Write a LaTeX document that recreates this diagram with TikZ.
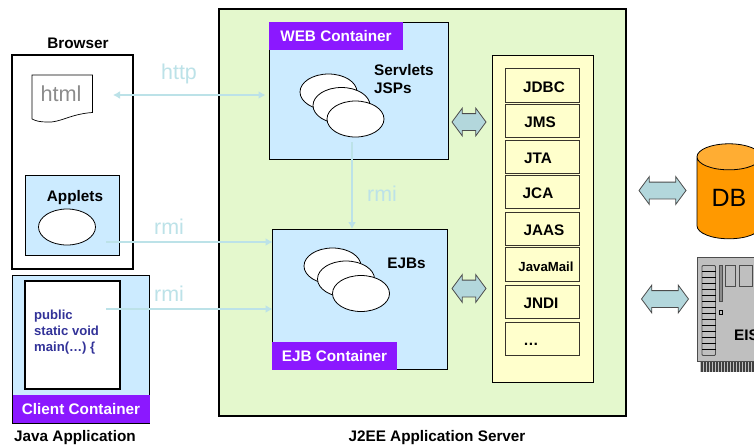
\documentclass[tikz,border=0pt]{standalone}
\usepackage{fontspec}
\setmainfont{Liberation Sans}
\usetikzlibrary{matrix,positioning,calc,arrows.meta,shapes.geometric,shapes.arrows}
\definecolor{serverfill}{RGB}{228,248,205}
\definecolor{boxfill}{RGB}{204,235,255}
\definecolor{panelfill}{RGB}{255,255,204}
\definecolor{tagfill}{RGB}{139,24,255}
\definecolor{linkcolor}{RGB}{188,226,232}
\definecolor{codecolor}{RGB}{51,51,153}
\tikzset{
  label15/.style={font=\fontsize{15.3}{18.7}\selectfont\bfseries, inner sep=0, align=left},
  linktext/.style={font=\fontsize{21.4}{24}\selectfont, text=linkcolor, inner sep=0},
  container/.style={draw, fill=boxfill, line width=0.8pt, inner sep=0, outer sep=0, anchor=north west},
  tag/.style={fill=tagfill, text=white, font=\fontsize{15.3}{18}\selectfont\bfseries, inner sep=0, outer sep=0,
    minimum height=28pt, text height=11pt, text depth=0pt, anchor=north west},
  bean/.style={ellipse, draw, fill=white, line width=0.8pt, minimum width=57pt, minimum height=36pt, inner sep=0},
  link/.style={draw=linkcolor, line width=2.3pt},
  blockarrow/.style={double arrow, draw=black!70, fill=linkcolor!95!black, line width=0.8pt, inner sep=0,
    text height=16pt, text depth=0pt, text width=0pt,
    minimum width=27pt, double arrow head extend=5.5pt, double arrow tip angle=107},
}
\begin{document}
\begin{tikzpicture}[x=1pt, y=-1pt, >={Latex[length=7pt,width=8pt]}]
  \clip (0,0) rectangle (754,445);
  \fill[white] (0,0) rectangle (754,445);

  % application server
  \node[container, fill=serverfill, line width=2.5pt, minimum width=407pt, minimum height=407pt] (server) at (219,9) {};
  \node[label15] (serverName) at (437,437.5) {J2EE Application Server};

  % browser
  \node[container, fill=white, line width=2pt, minimum width=121pt, minimum height=214pt] (browser) at (12,55) {};
  \node[label15] (browserName) at (78,43.5) {Browser};
  \draw[fill=white, line width=0.7pt] (32,119) -- (32,75) -- (92.5,75) -- (92.5,112.5)
    .. controls (70,114) and (60,123) .. (47,122) .. controls (40,122) and (36,121) .. (32,119);
  \node[inner sep=0, text=black!45, font=\fontsize{21.7}{24}\selectfont] (html) at (61,94) {html};
  \node[container, minimum width=94pt, minimum height=80pt] (applets) at (25.5,175) {};
  \node[label15] (appletsName) at (75,197.5) {Applets};
  \node[bean] (applet) at (67,227) {};

  % client container
  \node[container, minimum width=137pt, minimum height=148pt] (client) at (12.5,275) {};
  \node[container, fill=white, line width=2pt, minimum width=95pt, minimum height=108pt] (main) at (25,281) {};
  \node[inner sep=0, anchor=west, align=left, text=codecolor, font=\fontsize{13.1}{16}\selectfont\bfseries] (code) at (34,332) {public\\static void\\main(\dots) \{};
  \node[tag, minimum width=137pt] (clientTag) at (12.5,395) {Client Container};
  \node[label15] (clientName) at (75,437.5) {Java Application};

  % web container
  \node[container, minimum width=179pt, minimum height=137pt] (web) at (269,22) {};
  \node[tag, minimum width=134pt] (webTag) at (web.north west) {WEB Container};
  \node[bean] (servlet1) at (328.5,92) {};
  \node[bean] (servlet2) at (341.5,105.5) {};
  \node[bean] (servlet3) at (355.5,119) {};
  \node[label15, anchor=north west] (webName) at (374,64) {Servlets\\JSPs};

  % ejb container
  \node[container, minimum width=174.5pt, minimum height=140pt] (ejb) at (272.5,229) {};
  \node[tag, minimum width=125pt] (ejbTag) at (272,342) {EJB Container};
  \node[bean] (bean1) at (332.5,266) {};
  \node[bean] (bean2) at (346,279) {};
  \node[bean] (bean3) at (361,293.5) {};
  \node[label15] (ejbName) at (406.5,263) {EJBs};

  % services
  \node[container, fill=panelfill, line width=0.8pt, minimum width=101pt, minimum height=327pt] (panel) at (492,55) {};
  \matrix(services)[matrix of nodes, anchor=north west, row sep=0pt, inner sep=0pt, outer sep=0pt,
    nodes={draw=black!80!olive, fill=panelfill, line width=0.8pt, minimum width=74pt, minimum height=33.5pt,
      inner sep=0, outer sep=0, anchor=center, text height=14pt, text depth=0pt,
      font=\fontsize{15.3}{18}\selectfont\bfseries}] at (505.1,68.1) {
    \hspace*{3pt}JDBC \\[1.2pt]
    \hspace*{-5pt}JMS \\[1.7pt]
    \hspace*{-9pt}JTA \\[0.7pt]
    \hspace*{-9pt}JCA \\[2.7pt]
    \hspace*{3pt}JAAS \\[1.2pt]
    |[font=\fontsize{13.2}{16}\selectfont\bfseries]| \hspace*{7pt}JavaMail \\[3.2pt]
    \hspace*{-3pt}JNDI \\[2.7pt]
    \hspace*{-23pt}\dots \\
  };

  % links
  \coordinate (htmlEnd) at (113,95);
  \coordinate (appletsEnd) at (106,242);
  \coordinate (mainEnd) at (106,309);
  \coordinate (webEnd) at (352,142);
  \draw[link, <->, shorten >=3.5pt] (htmlEnd) -- (web.west |- htmlEnd);
  \draw[link, ->] (appletsEnd) -- (ejb.west |- appletsEnd);
  \draw[link, ->] (mainEnd) -- (ejb.west |- mainEnd);
  \draw[link, ->] (webEnd) -- (ejb.north -| webEnd);
  \node[linktext] (httpText) at (179,74) {http};
  \node[linktext] (rmiApplets) at (169,227) {rmi};
  \node[linktext] (rmiMain) at (169,294) {rmi};
  \node[linktext] (rmiWeb) at (382,194) {rmi};

  % block arrows
  \node[blockarrow, minimum height=34pt] (webServices) at (469,122) {};
  \node[blockarrow, minimum height=34pt] (ejbServices) at (469,288.5) {};
  \node[blockarrow, minimum height=47pt] (serverDb) at (662.5,190.5) {};
  \node[blockarrow, minimum height=47pt] (serverEis) at (665,299) {};

  % database
  \node[cylinder, shape border rotate=90, draw, line width=0.8pt, aspect=0.75, minimum width=64pt, minimum height=95pt,
    inner sep=0, cylinder uses custom fill, cylinder body fill={rgb,255:red,255;green,153;blue,0},
    cylinder end fill={rgb,255:red,255;green,173;blue,51},
    font=\fontsize{25}{28}\selectfont] (db) at (729,198) {DB};

  % eis board
  \fill[black!75] (700,361) rectangle (760,372);
  \draw[white!75!black, line width=10pt, dash pattern=on 1pt off 2pt] (700,367) -- (760,367);
  \draw[black!70, fill=black!25, line width=0.8pt] (697,257) rectangle (765,361);
  \draw[black!70, fill=black!25, line width=0.8pt, rounded corners=1pt] (702,265.5) rectangle (715.5,355.5);
  \foreach \y in {271,277,...,351} \draw[line width=0.8pt] (702,\y) -- (715.5,\y);
  \draw[black!70, fill=black!45, line width=0.6pt] (719.3,265.5) rectangle (722.3,301.5);
  \draw[black, fill=black!25, line width=0.6pt] (719.3,310) rectangle (722.3,314);
  \draw[black!70, line width=0.7pt] (725,265.5) rectangle (735.7,286.5);
  \draw[black!70, line width=0.7pt] (739.3,265.5) rectangle (752,286.5);
  \draw[black!70, line width=0.7pt] (754,265.5) rectangle (765,286.5);
  \node[label15, anchor=west] (eis) at (734,335) {EIS};
\end{tikzpicture}
\end{document}
